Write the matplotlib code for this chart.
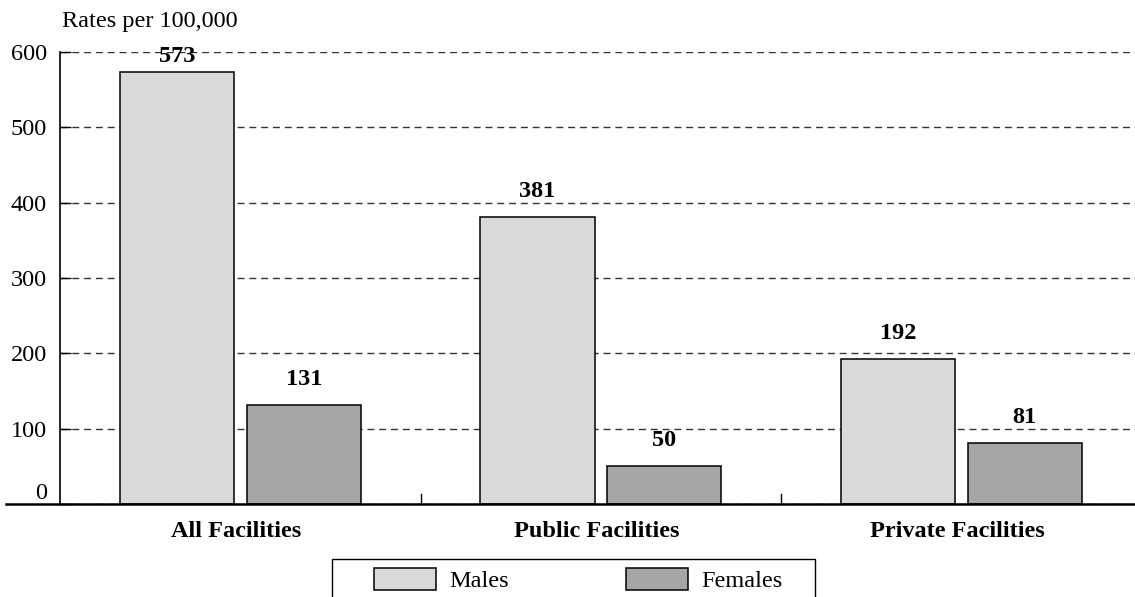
import numpy as np
import matplotlib
matplotlib.use("Agg")
import matplotlib.pyplot as plt
from matplotlib.patches import Rectangle

# Datos
categories = ['All Facilities', 'Public Facilities', 'Private Facilities']
males = [573, 381, 192]
females = [131, 50, 81]
yticks = [0, 100, 200, 300, 400, 500, 600]

plt.rcParams['font.family'] = ['Liberation Serif', 'DejaVu Serif']
FS = 17.5

W, H = 1135, 597
fig = plt.figure(figsize=(W / 100, H / 100), dpi=100)
ax = fig.add_axes([60 / W, (H - 504) / H, 1075 / W, 452 / H])

x = np.arange(len(categories))
w = 0.3167
off = 0.176
bm = ax.bar(x - off, males, w, color='#d9d9d9', edgecolor='black', linewidth=1.1,
            label='Males', zorder=3)
bf = ax.bar(x + off, females, w, color='#a6a6a6', edgecolor='black', linewidth=1.1,
            label='Females', zorder=3)

# Etiquetas sobre las barras
for bars, vals in ((bm, males), (bf, females)):
    for b, v in zip(bars, vals):
        ax.text(b.get_x() + b.get_width() / 2, min(v + 20, 580), str(v), ha='center',
                va='bottom', fontsize=FS, fontweight='bold')

ax.set_xlim(-0.501, 2.482)
ax.set_ylim(0, 600)
ax.set_yticks(yticks)
ax.set_yticklabels([str(t) for t in yticks], fontsize=FS)
ax.tick_params(axis='y', direction='in', length=8, width=1, pad=9.5)
ax.get_yticklabels()[0].set_va('bottom')

ax.set_xticks(x - 0.012)
ax.set_xticklabels(categories, fontsize=FS, fontweight='bold')
ax.tick_params(axis='x', length=0, pad=12)
# Separadores entre grupos
for s in (0.5, 1.5):
    ax.plot([s, s], [0, 13], color='black', linewidth=1, zorder=4)

ax.yaxis.grid(True, linestyle=(0, (5, 3.5)), color='#333333', linewidth=1)
ax.set_axisbelow(True)
for sp in ('top', 'right'):
    ax.spines[sp].set_visible(False)
ax.spines['left'].set_linewidth(1.2)
ax.spines['bottom'].set_visible(False)
ax.plot([-0.05, 1], [0, 0], transform=ax.get_yaxis_transform(), color='black',
        linewidth=1.8, clip_on=False, zorder=5)

fig.text(62 / W, 1 - 22 / H, 'Rates per 100,000', fontsize=FS, ha='left', va='center')

# Leyenda (marco dibujado aparte)
leg = fig.legend(loc='center left', bbox_to_anchor=(374 / W, 1 - 580 / H),
                 ncol=2, fontsize=FS, frameon=False,
                 handlelength=2.55, handleheight=1.0, columnspacing=4.8, handletextpad=0.55,
                 borderpad=0, borderaxespad=0)
fig.add_artist(Rectangle((332 / W, -0.02), (815 - 332) / W, (H - 559) / H + 0.02,
                         transform=fig.transFigure, fill=False, edgecolor='black',
                         linewidth=1.0))

fig.savefig("out.png", dpi=100)
